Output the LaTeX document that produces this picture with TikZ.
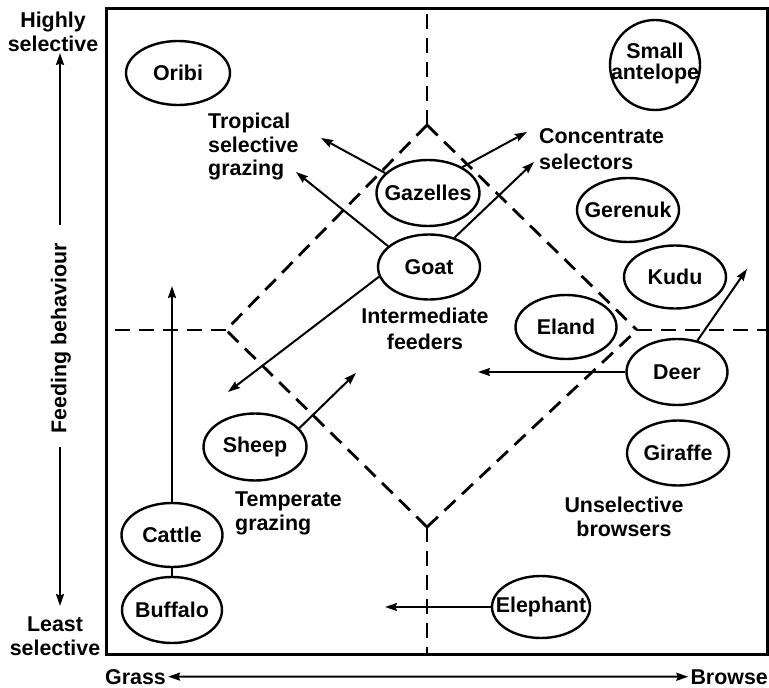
\documentclass[tikz,border=0pt]{standalone}
\usepackage{fontspec}
\setmainfont{Liberation Sans}
\usetikzlibrary{shapes.geometric,arrows.meta}
\newcommand\zwbox[1]{\makebox[0pt]{#1}}
\begin{document}
\begin{tikzpicture}[x=1pt,y=-1pt,
  lbl/.style={font=\fontsize{21.4}{23.5}\selectfont\bfseries, inner sep=0pt},
  animal/.style={lbl, draw, line width=2.4pt, ellipse, minimum width=102pt, minimum height=64pt},
  arr/.style={line width=2pt, -{Stealth[length=12pt,width=8pt,inset=1.5pt]}},
  arrboth/.style={line width=2pt, {Stealth[length=12pt,width=8pt,inset=1.5pt]}-{Stealth[length=12pt,width=8pt,inset=1.5pt]}},
  dsh/.style={line width=2.8pt, dash pattern=on 15pt off 9pt},
  frame/.style={line width=3pt}]
\path[use as bounding box] (0,0) rectangle (769,688);

% frame
\draw[frame] (106,8) rectangle (767,654);

% diamond and quadrant dashed lines
\coordinate (dT) at (427,125);
\coordinate (dL) at (226,330);
\coordinate (dB) at (427,527);
\coordinate (dR) at (637,330);
\coordinate (fT) at (427,9);
\coordinate (fB) at (427,653);
\coordinate (fL) at (107,330);
\coordinate (fR) at (766,330);
\draw[dsh] (dT) -- (fT);
\draw[dsh] (dB) -- (fB);
\draw[dsh] (dL) -- (fL);
\draw[dsh] (dR) -- (fR);
\draw[dsh] (dT) -- (dL);
\draw[dsh] (dT) -- (dR);
\draw[dsh] (dB) -- (dL);
\draw[dsh] (dB) -- (dR);

% animals
\node[animal, minimum width=104pt] (oribi) at (178,73) {\zwbox{Oribi}};
\node[animal, circle, minimum size=90pt] (small) at (655,65) {\zwbox{\raisebox{8pt}{\shortstack{Small\\[2pt]antelope}}}};
\node[animal, minimum width=103pt, minimum height=66pt] (gaz) at (428,193) {\zwbox{Gazelles}};
\node[animal, minimum height=65pt] (goat) at (429,267) {\zwbox{Goat}};
\node[animal] (ger) at (628,210) {\zwbox{Gerenuk}};
\node[animal, minimum height=63pt] (kudu) at (675,277) {\zwbox{Kudu}};
\node[animal, minimum width=101pt] (eland) at (566,327) {\zwbox{Eland}};
\node[animal, minimum width=101pt, minimum height=66pt] (deer) at (677,372) {\zwbox{Deer}};
\node[animal, minimum height=65pt] (gir) at (678,453) {\zwbox{Giraffe}};
\node[animal, minimum width=103pt, minimum height=67pt] (sheep) at (255,447) {\zwbox{Sheep}};
\node[animal, minimum width=101pt] (cattle) at (172,535) {\zwbox{Cattle}};
\node[animal, minimum width=100pt, minimum height=66pt] (buff) at (172,610) {\zwbox{Buffalo}};
\node[animal, minimum width=98pt, minimum height=62pt] (eleph) at (541,607) {\zwbox{Elephant}};

% region labels
\node[lbl, anchor=north west, align=left] (tsg) at (208,113) {Tropical\\selective\\grazing};
\node[lbl, anchor=north west, align=left] (cs) at (539,128) {Concentrate\\[3pt]selectors};
\node[lbl, anchor=north, align=center] (imf) at (425,308) {Intermediate\\[2pt]feeders};
\node[lbl, anchor=north west, align=left] (tg) at (235,492) {Temperate\\grazing};
\node[lbl, anchor=north, align=center] (ub) at (624,497) {Unselective\\browsers};

% arrow end points
\coordinate (tsg1) at (321,138);
\coordinate (tsg2) at (296,172);
\coordinate (cs1) at (527,132);
\coordinate (cs2) at (534,162);
\coordinate (ifl) at (228,392);
\coordinate (sheepA) at (356,373);
\coordinate (cattleA) at (172,286);
\coordinate (deerL) at (478,372);
\coordinate (deerU) at (747,269);
\coordinate (elephL) at (385,607);

\draw[arr] (gaz.155) -- (tsg1);
\draw[arr] (gaz.37) -- (cs1);
\draw[arr] (goat.153) -- (tsg2);
\draw[arr] (goat.49) -- (cs2);
\draw[arr] (goat.191) -- (ifl);
\draw[arr] (sheep.23) -- (sheepA);
\draw[arr] (cattle.north) -- (cattleA);
\draw[line width=2pt] (cattle.south) -- (buff.north);
\draw[arr] (deer.west) -- (deerL);
\draw[arr] (deer.57) -- (deerU);
\draw[arr] (eleph.west) -- (elephL);

% axes
\node[lbl, anchor=north, align=center] (hi) at (53,12) {Highly\\selective};
\node[lbl, anchor=north, align=center] (ls) at (55,617) {Least\\selective};
\node[lbl, rotate=90] (fb) at (61,338) {Feeding behaviour};
\coordinate (fbTop) at (60,225);
\coordinate (hiTip) at (60,53);
\coordinate (fbBot) at (60,447);
\coordinate (lsTip) at (60,606);
\draw[arr] (fbTop) -- (hiTip);
\draw[arr] (fbBot) -- (lsTip);

\node[lbl, anchor=base west] (gr) at (105,684) {Grass};
\node[lbl, anchor=base east] (br) at (768,684) {Browse};
\draw[arrboth, shorten <=2pt, shorten >=2pt] (gr.east) -- (br.west);
\end{tikzpicture}
\end{document}
